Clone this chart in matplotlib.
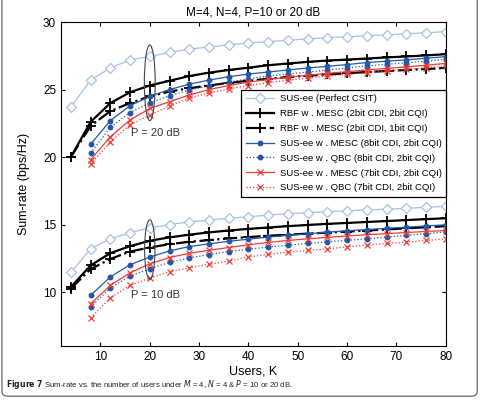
"""Sum-rate vs. number of users, M=4, N=4, P=10 or 20 dB."""

import numpy as np
import matplotlib.pyplot as plt
from matplotlib.patches import Ellipse, FancyBboxPatch

plt.rcParams.update({
    'font.family': ['Liberation Sans', 'DejaVu Sans'],
    'xtick.direction': 'in',
    'ytick.direction': 'in',
    'xtick.top': True,
    'ytick.right': True,
})

users = [4, 8, 12, 16, 20, 24, 28, 32, 36, 40, 44, 48, 52, 56, 60, 64, 68, 72, 76, 80]
users_q = users[1:]

# P = 20 dB
sus_perfect_20 = [23.7, 25.7, 26.6, 27.2, 27.45, 27.75, 28.0, 28.15, 28.3, 28.45,
                  28.55, 28.65, 28.75, 28.85, 28.9, 29.0, 29.05, 29.15, 29.2, 29.3]
rbf_22_20 = [20.0, 22.6, 24.0, 24.8, 25.3, 25.65, 26.0, 26.25, 26.45, 26.62,
             26.8, 26.93, 27.05, 27.15, 27.22, 27.3, 27.38, 27.45, 27.53, 27.62]
rbf_21_20 = [20.0, 22.3, 23.4, 24.0, 24.5, 24.85, 25.1, 25.3, 25.5, 25.65,
             25.8, 25.92, 26.03, 26.12, 26.2, 26.3, 26.37, 26.45, 26.52, 26.6]
mesc8_20 = [20.95, 22.7, 23.8, 24.5, 25.0, 25.4, 25.7, 25.95, 26.15, 26.3,
            26.45, 26.6, 26.72, 26.85, 27.0, 27.1, 27.2, 27.32, 27.44]
qbc8_20 = [20.3, 22.2, 23.3, 24.0, 24.55, 24.95, 25.3, 25.55, 25.8, 26.0,
           26.15, 26.3, 26.45, 26.6, 26.75, 26.87, 26.98, 27.1, 27.24]
mesc7_20 = [19.8, 21.5, 22.75, 23.6, 24.1, 24.6, 25.0, 25.3, 25.55, 25.75,
            25.92, 26.05, 26.2, 26.32, 26.45, 26.57, 26.68, 26.8, 26.94]
qbc7_20 = [19.5, 21.1, 22.4, 23.1, 23.8, 24.35, 24.75, 25.05, 25.3, 25.5,
           25.7, 25.85, 26.0, 26.12, 26.25, 26.38, 26.5, 26.62, 26.74]

# P = 10 dB
sus_perfect_10 = [11.45, 13.2, 13.95, 14.4, 14.75, 15.0, 15.2, 15.33, 15.47, 15.58,
                  15.7, 15.8, 15.88, 15.95, 16.02, 16.08, 16.14, 16.2, 16.28, 16.35]
rbf_22_10 = [10.37, 11.97, 12.88, 13.4, 13.8, 14.05, 14.25, 14.42, 14.56, 14.68,
             14.78, 14.88, 14.97, 15.05, 15.12, 15.19, 15.26, 15.33, 15.4, 15.47]
rbf_21_10 = [10.25, 11.7, 12.45, 13.0, 13.3, 13.55, 13.72, 13.85, 13.97, 14.07,
             14.17, 14.25, 14.33, 14.4, 14.48, 14.56, 14.64, 14.72, 14.8, 14.88]
mesc8_10 = [9.75, 11.12, 12.03, 12.59, 13.05, 13.37, 13.57, 13.76, 13.92, 14.07,
            14.2, 14.32, 14.44, 14.54, 14.63, 14.72, 14.8, 14.9, 14.98]
qbc8_10 = [8.9, 10.3, 11.18, 11.72, 12.2, 12.52, 12.78, 13.0, 13.18, 13.33,
           13.47, 13.6, 13.72, 13.83, 13.95, 14.07, 14.2, 14.33, 14.45]
mesc7_10 = [9.13, 10.49, 11.43, 12.09, 12.56, 12.87, 13.1, 13.3, 13.5, 13.68,
            13.82, 13.94, 14.05, 14.15, 14.25, 14.33, 14.41, 14.49, 14.56]
qbc7_10 = [8.08, 9.56, 10.49, 11.04, 11.5, 11.8, 12.05, 12.3, 12.6, 12.8,
           12.95, 13.08, 13.2, 13.35, 13.48, 13.6, 13.7, 13.82, 13.94]

labels = [
    'SUS-ee (Perfect CSIT)',
    'RBF w . MESC (2bit CDI, 2bit CQI)',
    'RBF w . MESC (2bit CDI, 1bit CQI)',
    'SUS-ee w . MESC (8bit CDI, 2bit CQI)',
    'SUS-ee w . QBC (8bit CDI, 2bit CQI)',
    'SUS-ee w . MESC (7bit CDI, 2bit CQI)',
    'SUS-ee w . QBC (7bit CDI, 2bit CQI)',
]

light = '#a8c0e6'
blue = '#2557a8'
red = '#ee3b36'

styles = [
    dict(color=light, ls='-', lw=0.9, marker='D', ms=5.5, mfc='white', mec=light, mew=0.9),
    dict(color='black', ls='-', lw=1.6, marker='+', ms=7, mew=1.3),
    dict(color='black', ls='-.', lw=1.6, marker='+', ms=7, mew=1.3),
    dict(color=blue, ls='-', lw=0.9, marker='o', ms=3.2),
    dict(color=blue, ls=':', lw=0.9, marker='o', ms=3.2),
    dict(color=red, ls='-', lw=0.9, marker='x', ms=3.8, mew=0.9),
    dict(color=red, ls=':', lw=0.9, marker='x', ms=3.8, mew=0.9),
]

series_20 = [sus_perfect_20, rbf_22_20, rbf_21_20, mesc8_20, qbc8_20, mesc7_20, qbc7_20]
series_10 = [sus_perfect_10, rbf_22_10, rbf_21_10, mesc8_10, qbc8_10, mesc7_10, qbc7_10]

fig = plt.figure(figsize=(4.84, 4.01), dpi=100)
ax = fig.add_axes([0.126, 0.137, 0.795, 0.808])

for i, (s20, s10) in enumerate(zip(series_20, series_10)):
    x = users if len(s20) == len(users) else users_q
    ax.plot(x, s20, label=labels[i], **styles[i])
    ax.plot(x, s10, **styles[i])

# ellipses marking the two power levels
ax.add_patch(Ellipse((20, 25.5), 2.2, 5.6, fill=False, ec='#444444', lw=0.8, zorder=6))
ax.add_patch(Ellipse((20, 13.15), 2.1, 4.4, fill=False, ec='#444444', lw=0.8, zorder=6))
ax.text(21.2, 21.8, 'P = 20 dB', fontsize=8, ha='center', va='center', color='#333333')
ax.text(21.2, 9.75, 'P = 10 dB', fontsize=8, ha='center', va='center', color='#333333')

ax.set_xlim(2, 80)
ax.set_ylim(6, 30)
ax.set_xticks(range(10, 81, 10))
ax.set_yticks([10, 15, 20, 25, 30])
ax.tick_params(labelsize=8.5, length=3)
ax.set_xlabel('Users, K', fontsize=9, labelpad=2)
ax.set_ylabel('Sum-rate (bps/Hz)', fontsize=9, labelpad=9)
ax.set_title('M=4, N=4, P=10 or 20 dB', fontsize=8.5, pad=5)

leg = ax.legend(loc='upper right', bbox_to_anchor=(1.0, 0.79), fontsize=6.8,
                frameon=True, fancybox=False, edgecolor='black', framealpha=1,
                handlelength=3.0, handletextpad=0.6, labelspacing=0.62,
                borderpad=0.45, borderaxespad=0)
leg.get_frame().set_linewidth(0.9)

# caption and page frame
fig.text(0.012, 0.042,
         r'$\mathbf{Figure\ 7}$ Sum-rate vs. the number of users under $M$ = 4, $N$ = 4 & $P$ = 10 or 20 dB.',
         fontsize=5.6, ha='left', va='center', color='#222222')
frame = FancyBboxPatch((0.004, 0.012), 0.982, 1.2, boxstyle='round,pad=0,rounding_size=0.012',
                       transform=fig.transFigure, fill=False, ec='#555555', lw=0.8)
fig.patches.append(frame)

fig.savefig('out.png', dpi=100)
